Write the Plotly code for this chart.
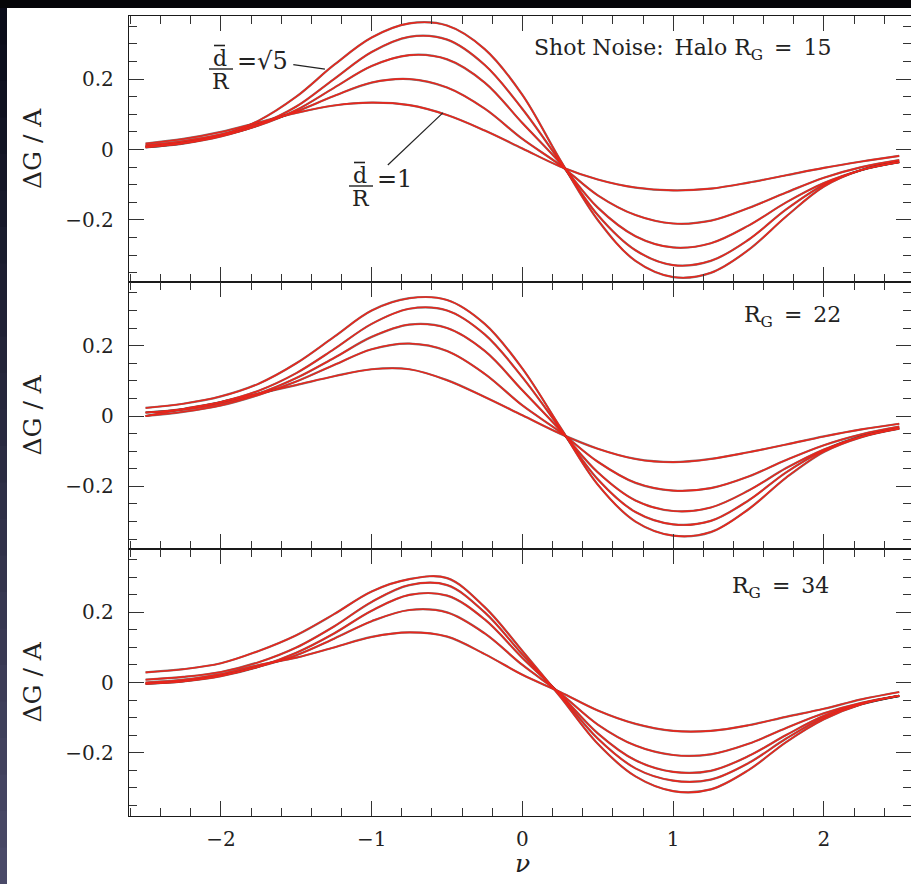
import plotly.graph_objects as go

# ---------------- data ----------------
nu = [-2.5, -2.25, -2.0, -1.75, -1.5, -1.25, -1.0, -0.75, -0.5, -0.25, 0.0,
      0.25, 0.5, 0.75, 1.0, 1.25, 1.5, 1.75, 2.0, 2.25, 2.5]

curve_names = ["d/R = 1", "d/R = sqrt2", "d/R = sqrt3", "d/R = 2", "d/R = sqrt5"]
panel_labels = ["Shot Noise:\u2002Halo R<sub>G</sub>\u2002=\u200215",
                "R<sub>G</sub>\u2002=\u200222",
                "R<sub>G</sub>\u2002=\u200234"]

# Panel 1 (R_G = 15)
p1_c1 = [0.017, 0.030, 0.050, 0.077, 0.104, 0.125, 0.133, 0.126, 0.098, 0.054, 0.003,
         -0.048, -0.085, -0.108, -0.116, -0.111, -0.094, -0.073, -0.052, -0.034, -0.018]
p1_c2 = [0.012, 0.024, 0.043, 0.072, 0.108, 0.152, 0.190, 0.200, 0.176, 0.116, 0.030,
         -0.044, -0.130, -0.186, -0.210, -0.202, -0.166, -0.122, -0.080, -0.050, -0.030]
p1_c3 = [0.009, 0.020, 0.039, 0.068, 0.112, 0.175, 0.237, 0.268, 0.256, 0.190, 0.075,
         -0.038, -0.165, -0.246, -0.278, -0.266, -0.216, -0.150, -0.095, -0.058, -0.035]
p1_c4 = [0.007, 0.017, 0.037, 0.070, 0.122, 0.200, 0.277, 0.320, 0.312, 0.240, 0.115,
         -0.034, -0.186, -0.286, -0.328, -0.316, -0.256, -0.170, -0.100, -0.058, -0.036]
p1_c5 = [0.006, 0.018, 0.040, 0.082, 0.150, 0.240, 0.318, 0.358, 0.352, 0.285, 0.155,
         -0.029, -0.200, -0.316, -0.362, -0.350, -0.285, -0.190, -0.105, -0.058, -0.036]

# Panel 2 (R_G = 22)
p2_c1 = [0.000, 0.020, 0.040, 0.064, 0.088, 0.113, 0.133, 0.133, 0.102, 0.054, 0.002,
         -0.050, -0.093, -0.122, -0.131, -0.122, -0.103, -0.081, -0.058, -0.038, -0.022]
p2_c2 = [0.000, 0.012, 0.030, 0.060, 0.098, 0.145, 0.190, 0.206, 0.185, 0.120, 0.030,
         -0.045, -0.130, -0.190, -0.212, -0.205, -0.172, -0.125, -0.083, -0.052, -0.030]
p2_c3 = [0.010, 0.018, 0.035, 0.064, 0.108, 0.165, 0.225, 0.260, 0.250, 0.185, 0.073,
         -0.040, -0.160, -0.240, -0.270, -0.260, -0.212, -0.148, -0.095, -0.058, -0.034]
p2_c4 = [0.010, 0.020, 0.040, 0.072, 0.122, 0.190, 0.262, 0.305, 0.300, 0.232, 0.110,
         -0.035, -0.180, -0.273, -0.308, -0.298, -0.240, -0.160, -0.098, -0.058, -0.035]
p2_c5 = [0.023, 0.035, 0.056, 0.092, 0.150, 0.225, 0.300, 0.335, 0.330, 0.262, 0.135,
         -0.031, -0.195, -0.300, -0.340, -0.330, -0.265, -0.175, -0.102, -0.060, -0.036]

# Panel 3 (R_G = 34)
p3_c1 = [0.000, 0.008, 0.024, 0.050, 0.071, 0.100, 0.130, 0.143, 0.131, 0.081, 0.022,
         -0.027, -0.080, -0.118, -0.138, -0.138, -0.122, -0.098, -0.075, -0.048, -0.027]
p3_c2 = [-0.003, 0.004, 0.020, 0.045, 0.078, 0.125, 0.175, 0.207, 0.200, 0.140, 0.050,
         -0.030, -0.120, -0.180, -0.207, -0.205, -0.175, -0.130, -0.088, -0.058, -0.038]
p3_c3 = [-0.004, 0.003, 0.018, 0.045, 0.085, 0.140, 0.205, 0.250, 0.248, 0.180, 0.070,
         -0.033, -0.145, -0.222, -0.255, -0.252, -0.210, -0.150, -0.095, -0.060, -0.038]
p3_c4 = [0.008, 0.016, 0.030, 0.058, 0.100, 0.160, 0.230, 0.278, 0.278, 0.200, 0.080,
         -0.036, -0.160, -0.245, -0.280, -0.277, -0.230, -0.160, -0.100, -0.062, -0.038]
p3_c5 = [0.029, 0.038, 0.055, 0.090, 0.135, 0.195, 0.260, 0.295, 0.298, 0.215, 0.090,
         -0.040, -0.175, -0.268, -0.310, -0.305, -0.250, -0.170, -0.105, -0.062, -0.038]

panels = [
    [p1_c1, p1_c2, p1_c3, p1_c4, p1_c5],
    [p2_c1, p2_c2, p2_c3, p2_c4, p2_c5],
    [p3_c1, p3_c2, p3_c3, p3_c4, p3_c5],
]

x_tickvals = [-2, -1, 0, 1, 2]
x_ticktext = ["\u22122", "\u22121", "0", "1", "2"]
y_tickvals = [-0.2, 0, 0.2]
y_ticktext = ["\u22120.2", "0", "0.2"]

# ---------------- figure ----------------
W, H = 911, 884
ML, MR, MT, MB = 129, 0, 16, 68
PW, PH = W - ML - MR, H - MT - MB


def px(xp):
    return (xp - ML) / PW


def py(yp):
    return (H - MB - yp) / PH


FONT = "DejaVu Serif"
TXT = "#222222"
RED = "#e8261c"

fig = go.Figure()

domains = [[0.6675, 1.0], [0.33375, 0.6675], [0.0, 0.33375]]
yranges = [[-0.376, 0.379], [-0.378, 0.381], [-0.381, 0.381]]

for i, curves in enumerate(panels):
    xa = "x" if i == 0 else f"x{i+1}"
    ya = "y" if i == 0 else f"y{i+1}"
    for j, c in enumerate(curves):
        fig.add_trace(go.Scatter(x=nu, y=c, mode="lines", xaxis=xa, yaxis=ya,
                                 line=dict(color="#111111", width=2.2, shape="spline", smoothing=1.0),
                                 opacity=0.55, showlegend=False, hoverinfo="skip",
                                 name=curve_names[j]))
    for j, c in enumerate(curves):
        fig.add_trace(go.Scatter(x=nu, y=c, mode="lines", xaxis=xa, yaxis=ya,
                                 line=dict(color=RED, width=1.6, shape="spline", smoothing=1.0),
                                 showlegend=False, name=curve_names[j]))

axis_common = dict(showline=True, linecolor="#1a1a1a", linewidth=1.3, mirror="allticks",
                   ticks="inside", ticklen=15, tickwidth=1.3, tickcolor="#333333",
                   showgrid=False, zeroline=False,
                   tickfont=dict(family=FONT, size=20, color=TXT))

layout = dict(width=W, height=H, margin=dict(l=ML, r=MR, t=MT, b=MB),
              paper_bgcolor="#050508", plot_bgcolor="white", showlegend=False)

for i in range(3):
    xk = "xaxis" if i == 0 else f"xaxis{i+1}"
    yk = "yaxis" if i == 0 else f"yaxis{i+1}"
    ya = "y" if i == 0 else f"y{i+1}"
    xa = "x" if i == 0 else f"x{i+1}"
    layout[xk] = dict(axis_common, range=[-2.61, 2.578], anchor=ya, domain=[0, 1],
                      tickmode="array", tickvals=x_tickvals, ticktext=x_ticktext,
                      showticklabels=(i == 2), ticklabelstandoff=5,
                      minor=dict(ticks="inside", ticklen=8, tickwidth=1.2, tickcolor="#333333",
                                 tickmode="linear", tick0=0, dtick=0.2))
    if i > 0:
        layout[xk]["matches"] = "x"
    layout[yk] = dict(axis_common, range=yranges[i], anchor=xa, domain=domains[i],
                      tickmode="array", tickvals=y_tickvals, ticktext=y_ticktext,
                      ticklabelstandoff=10,
                      minor=dict(ticks="inside", ticklen=8, tickwidth=1.2, tickcolor="#333333",
                                 tickmode="linear", tick0=0, dtick=0.05))

fig.update_layout(**layout)

# ---------------- background (white page on dark frame) ----------------
shapes = []
shapes.append(dict(type="rect", xref="paper", yref="paper", x0=px(7), x1=px(915), y0=py(890), y1=py(8),
                   fillcolor="white", line=dict(width=0), layer="below"))
nb = 24
top_c = (10, 12, 26)
bot_c = (74, 74, 104)
for k in range(nb):
    t = k / (nb - 1)
    r = int(top_c[0] + (bot_c[0] - top_c[0]) * t)
    g = int(top_c[1] + (bot_c[1] - top_c[1]) * t)
    b = int(top_c[2] + (bot_c[2] - top_c[2]) * t)
    y0p = 8 + (H - 8) * k / nb
    y1p = 8 + (H - 8) * (k + 1) / nb
    shapes.append(dict(type="rect", xref="paper", yref="paper", x0=px(-2), x1=px(7),
                       y0=py(y1p + 1), y1=py(y0p), fillcolor=f"rgb({r},{g},{b})",
                       line=dict(width=0), layer="below"))

# label 1 (sqrt5): overline and fraction bar
shapes.append(dict(type="line", xref="paper", yref="paper", x0=px(214), x1=px(225), y0=py(45.5), y1=py(45.5),
                   line=dict(color=TXT, width=1.6)))
shapes.append(dict(type="line", xref="paper", yref="paper", x0=px(209), x1=px(233), y0=py(69), y1=py(69),
                   line=dict(color=TXT, width=1.4)))
# label 2 (1): overline and fraction bar
shapes.append(dict(type="line", xref="paper", yref="paper", x0=px(354), x1=px(365), y0=py(162.5), y1=py(162.5),
                   line=dict(color=TXT, width=1.6)))
shapes.append(dict(type="line", xref="paper", yref="paper", x0=px(349), x1=px(373), y0=py(186), y1=py(186),
                   line=dict(color=TXT, width=1.4)))
# leader lines from the labels to the curves (panel 1 data coordinates)
shapes.append(dict(type="line", xref="x", yref="y", x0=-1.52, y0=0.241, x1=-1.31, y1=0.228,
                   line=dict(color=TXT, width=1.2)))
shapes.append(dict(type="line", xref="x", yref="y", x0=-0.893, y0=-0.044, x1=-0.528, y1=0.104,
                   line=dict(color=TXT, width=1.2)))
fig.update_layout(shapes=shapes)

# ---------------- text ----------------
ann = []
for i, (t, b) in enumerate([(16, 282), (282, 549), (549, 816)]):
    ann.append(dict(text="\u0394G / A", xref="paper", yref="paper", x=px(32), y=py((t + b) / 2),
                    showarrow=False, textangle=-90, xanchor="center", yanchor="middle",
                    font=dict(family=FONT, size=25, color=TXT)))
ann.append(dict(text="<i>\u03bd</i>", xref="paper", yref="paper", x=px(522), y=py(863),
                showarrow=False, xanchor="center", yanchor="middle",
                font=dict(family=FONT, size=25, color=TXT)))
ann.append(dict(text=panel_labels[0], xref="paper", yref="paper", x=px(833), y=py(50),
                showarrow=False, xanchor="right", yanchor="middle",
                font=dict(family=FONT, size=22, color=TXT)))
ann.append(dict(text=panel_labels[1], xref="paper", yref="paper", x=px(843), y=py(316),
                showarrow=False, xanchor="right", yanchor="middle",
                font=dict(family=FONT, size=22, color=TXT)))
ann.append(dict(text=panel_labels[2], xref="paper", yref="paper", x=px(831), y=py(587),
                showarrow=False, xanchor="right", yanchor="middle",
                font=dict(family=FONT, size=22, color=TXT)))

# d/R = sqrt5 label
ann.append(dict(text="d", xref="paper", yref="paper", x=px(220), y=py(59), showarrow=False,
                xanchor="center", yanchor="middle", font=dict(family=FONT, size=22, color=TXT)))
ann.append(dict(text="R", xref="paper", yref="paper", x=px(221), y=py(81), showarrow=False,
                xanchor="center", yanchor="middle", font=dict(family=FONT, size=22, color=TXT)))
ann.append(dict(text="=\u221a5", xref="paper", yref="paper", x=px(235), y=py(61), showarrow=False,
                xanchor="left", yanchor="middle", font=dict(family=FONT, size=24, color=TXT)))
# d/R = 1 label
ann.append(dict(text="d", xref="paper", yref="paper", x=px(360), y=py(176), showarrow=False,
                xanchor="center", yanchor="middle", font=dict(family=FONT, size=22, color=TXT)))
ann.append(dict(text="R", xref="paper", yref="paper", x=px(361), y=py(198), showarrow=False,
                xanchor="center", yanchor="middle", font=dict(family=FONT, size=22, color=TXT)))
ann.append(dict(text="=1", xref="paper", yref="paper", x=px(375), y=py(179), showarrow=False,
                xanchor="left", yanchor="middle", font=dict(family=FONT, size=24, color=TXT)))

fig.update_layout(annotations=ann)

fig.write_html("out.html",
               config={"displayModeBar": False},
               post_script="document.body.style.margin='0';document.body.style.padding='0';"
                           "document.body.style.overflow='hidden';"
                           "document.documentElement.style.overflow='hidden';")
